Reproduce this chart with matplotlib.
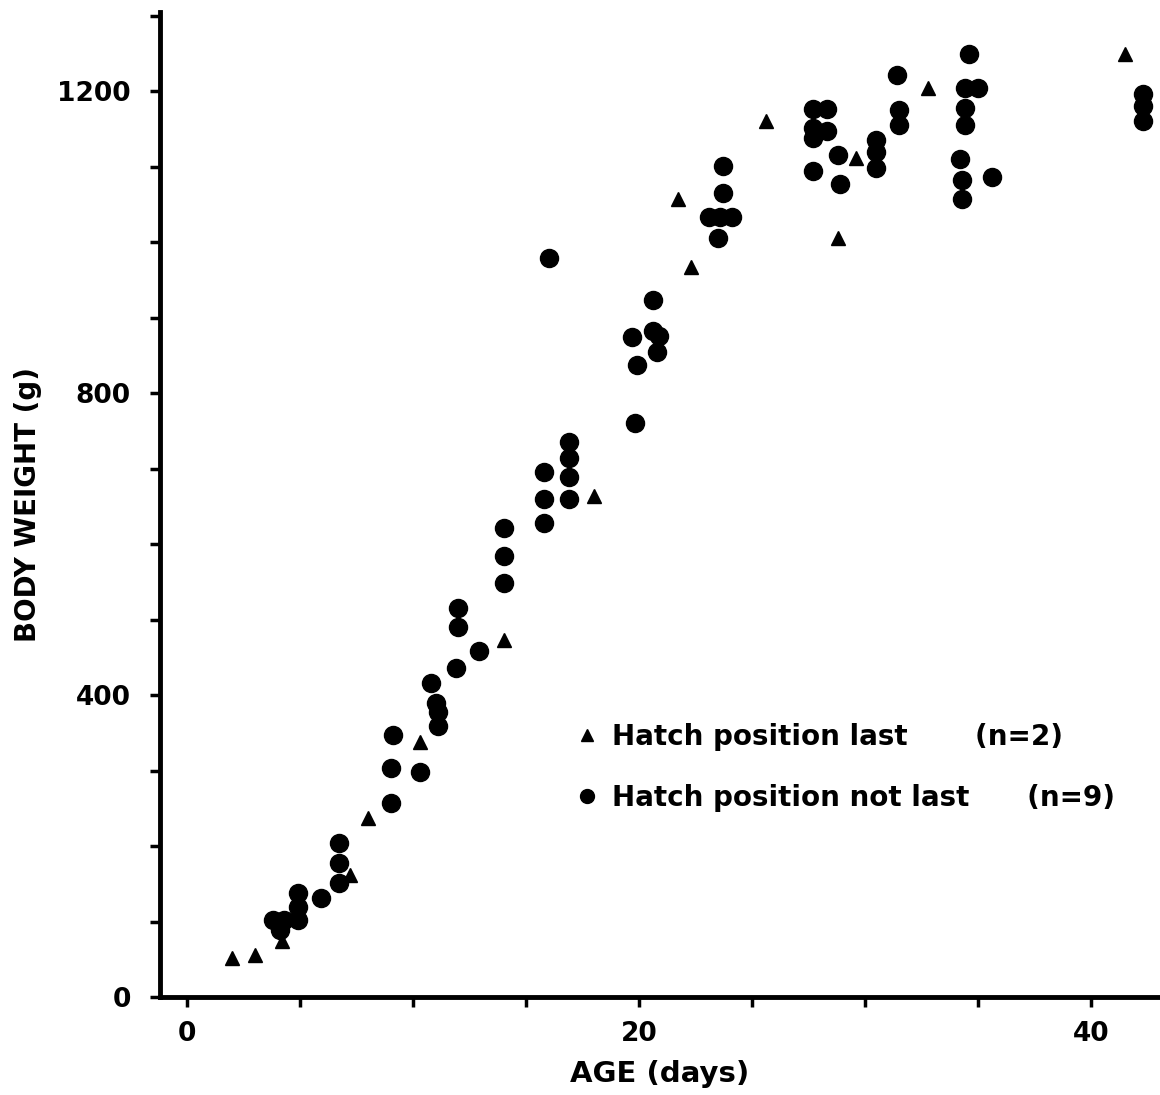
import matplotlib.pyplot as plt
from matplotlib.lines import Line2D
from matplotlib.ticker import MultipleLocator

plt.rcParams['font.family'] = ['DejaVu Sans']
plt.rcParams['font.weight'] = 'bold'
plt.rcParams['axes.labelweight'] = 'bold'

# Filhotes com posição de eclosão "último" (triângulos)
idade_ultimo = [2.0, 3.0, 4.2, 7.2, 8.0, 10.3, 14.0, 18.0, 21.7, 22.3,
                25.6, 28.8, 29.6, 32.8, 41.5]
peso_ultimo = [52, 56, 74, 162, 237, 338, 473, 664, 1057, 967,
               1160, 1005, 1111, 1204, 1249]

# Filhotes com posição de eclosão "não último" (círculos)
idade_outros = [3.8, 4.3, 4.1, 4.9, 4.9, 4.9, 5.9, 6.7, 6.7, 6.7,
                9.0, 9.0, 9.1, 10.3, 10.8, 11.0, 11.1, 11.1,
                11.9, 12.0, 12.0, 12.9, 14.0, 14.0, 14.0,
                15.8, 15.8, 15.8, 16.0, 16.9, 16.9, 16.9, 16.9,
                19.8, 19.9, 19.7, 20.6, 20.6, 20.9, 20.8,
                23.7, 23.7, 23.1, 23.6, 24.1, 23.5,
                27.7, 28.3, 27.7, 28.3, 27.7, 27.7, 28.8, 28.9,
                30.5, 30.5, 30.5, 31.4, 31.5, 31.5,
                34.6, 34.4, 35.0, 34.4, 34.4, 34.2, 34.3, 34.3, 35.6,
                42.3, 42.3, 42.3]
peso_outros = [102, 102, 89, 138, 119, 102, 131, 151, 177, 204,
               257, 303, 347, 298, 416, 389, 377, 359,
               436, 490, 516, 458, 548, 584, 621,
               628, 660, 695, 979, 660, 689, 714, 735,
               760, 837, 874, 923, 883, 876, 854,
               1101, 1065, 1034, 1034, 1034, 1005,
               1176, 1176, 1151, 1147, 1138, 1095, 1116, 1077,
               1136, 1120, 1098, 1221, 1175, 1156,
               1250, 1205, 1205, 1178, 1155, 1110, 1082, 1057, 1087,
               1197, 1180, 1160]

fig = plt.figure(figsize=(11.6, 10.95), dpi=100)
ax = fig.add_axes([0.138, 0.0895, 0.862, 0.8995])

ax.plot(idade_ultimo, peso_ultimo, '^', color='black', markersize=10, clip_on=False)
ax.plot(idade_outros, peso_outros, 'o', color='black', markersize=13, clip_on=False)

ax.set_xlim(-1.2, 43.05)
ax.set_ylim(0, 1305)

for lado in ['top', 'right']:
    ax.spines[lado].set_visible(False)
for lado in ['left', 'bottom']:
    ax.spines[lado].set_linewidth(3.5)

ax.xaxis.set_major_locator(MultipleLocator(20))
ax.xaxis.set_minor_locator(MultipleLocator(5))
ax.yaxis.set_major_locator(MultipleLocator(400))
ax.yaxis.set_minor_locator(MultipleLocator(100))
ax.tick_params(which='both', direction='out', length=7, width=2.5, color='black')
ax.tick_params(axis='y', which='major', labelsize=19, pad=14)
ax.tick_params(axis='x', which='major', labelsize=19, pad=10)

ax.set_xlabel('AGE (days)', fontsize=21, labelpad=10)
ax.set_ylabel('BODY WEIGHT (g)', fontsize=20, labelpad=11)

itens = [Line2D([], [], marker='^', color='black', linestyle='none', markersize=8),
         Line2D([], [], marker='o', color='black', linestyle='none', markersize=10)]
ax.legend(itens, ['Hatch position last       (n=2)', 'Hatch position not last      (n=9)'],
          loc='center left', bbox_to_anchor=(0.416, 0.233), frameon=False,
          prop={'size': 20, 'weight': 'bold'}, handlelength=0.8, handletextpad=0.5,
          labelspacing=1.2, borderpad=0, borderaxespad=0)

plt.savefig('out.png', dpi=100)
